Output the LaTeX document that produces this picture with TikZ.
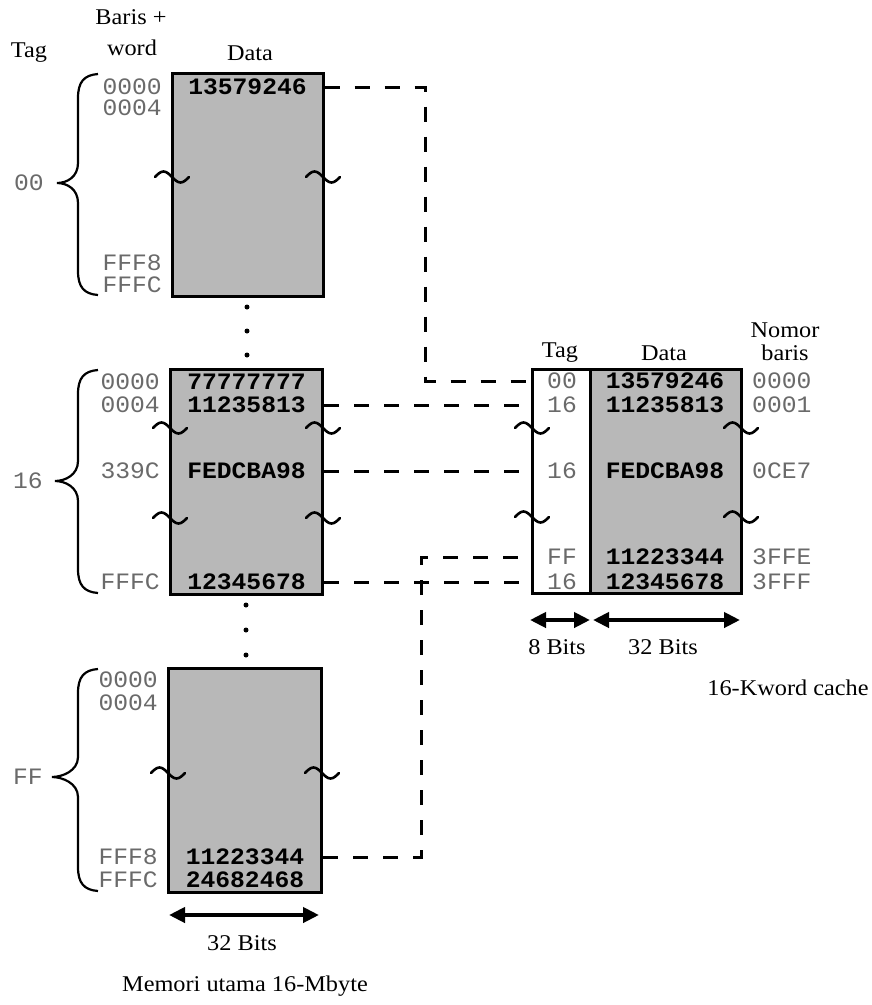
\documentclass[tikz,border=0pt]{standalone}
\usepackage{fontspec}
\setmainfont[FakeStretch=1.08]{Liberation Serif}
\newfontfamily\monof[FakeStretch=1.05]{Liberation Mono}
\usetikzlibrary{arrows.meta}
\definecolor{boxgray}{HTML}{B8B8B8}
\definecolor{addrgray}{HTML}{6A6A6A}
\newcommand\brkmark[2]{\draw[brk] ({#1-17},#2) sin ({#1-8.5},{#2-5.5}) cos (#1,#2) sin ({#1+8.5},{#2+5.5}) cos ({#1+17},#2);}
\newcommand\memBrace[4]{% top, bottom, middle, tip x
  \draw[brc] (98,#1) .. controls (84,{#1+1}) and (78,{#1+8}) .. (78,{#1+24})
    -- (78,{#3-20}) .. controls (78,{#3-6}) and ({#4+10},#3) .. (#4,#3)
    .. controls ({#4+10},#3) and (78,{#3+6}) .. (78,{#3+20})
    -- (78,{#2-24}) .. controls (78,{#2-8}) and (84,{#2-1}) .. (98,#2);}
\begin{document}
\begin{tikzpicture}[x=1pt,y=-1pt,
  lbl/.style={font=\fontsize{22.5}{24}\selectfont, inner sep=0pt},
  addr/.style={font=\monof\fontsize{23.5}{24}\selectfont, text=addrgray, inner sep=0pt},
  val/.style={font=\monof\bfseries\fontsize{23.5}{24}\selectfont, inner sep=0pt},
  blk/.style={draw, line width=3pt, fill=boxgray, inner sep=0pt},
  brk/.style={line width=2.6pt, line cap=round},
  brc/.style={line width=2.2pt},
  dsh/.style={line width=3pt, dash pattern=on 15pt off 15pt},
  dbl/.style={line width=4pt, {Triangle[length=16pt,width=15pt]}-{Triangle[length=16pt,width=15pt]}},
  dotm/.style={circle, fill, inner sep=0pt, minimum size=5pt}]
\useasboundingbox (0,0) rectangle (872,1005);

% ---------- headers ----------
\node[lbl] (hbaris) at (131,17) {Baris +};
\node[lbl] (hword) at (132,48) {word};
\node[lbl] (htag) at (29,53) {Tag};
\node[lbl] (hdata) at (250,53) {Data};

% ---------- block 1 (tag 00) ----------
\node[blk, minimum width=151pt, minimum height=223pt] (m1) at (247.5,184.5) {};
\node[val] (v1a) at (247.5,87) {13579246};
\node[addr, anchor=east] (a1a) at (162,87) {0000};
\node[addr, anchor=east] (a1b) at (162,108) {0004};
\node[addr, anchor=east] (a1c) at (162,263) {FFF8};
\node[addr, anchor=east] (a1d) at (162,285) {FFFC};
\brkmark{172}{177}
\brkmark{323}{177}
\memBrace{74}{295}{183}{57}
\node[addr] (t1) at (29,183) {00};

\node[dotm] (d1) at (247,307) {};
\node[dotm] (d2) at (247,331) {};
\node[dotm] (d3) at (247,355) {};

% ---------- block 2 (tag 16) ----------
\node[blk, minimum width=152pt, minimum height=225pt] (m2) at (246.5,481.5) {};
\node[val] (v2a) at (246.5,382) {77777777};
\node[val] (v2b) at (246.5,405) {11235813};
\node[val] (v2c) at (246.5,471) {FEDCBA98};
\node[val] (v2d) at (246.5,582) {12345678};
\node[addr, anchor=east] (a2a) at (160,382) {0000};
\node[addr, anchor=east] (a2b) at (160,405) {0004};
\node[addr, anchor=east] (a2c) at (160,471) {339C};
\node[addr, anchor=east] (a2d) at (160,582) {FFFC};
\brkmark{170}{428}
\brkmark{323}{428}
\brkmark{170}{518}
\brkmark{323}{518}
\memBrace{370}{593}{481}{55}
\node[addr] (t2) at (28,481) {16};

\node[dotm] (d4) at (246,605) {};
\node[dotm] (d5) at (246,630) {};
\node[dotm] (d6) at (246,655) {};

% ---------- block 3 (tag FF) ----------
\node[blk, minimum width=153pt, minimum height=224pt] (m3) at (245,780) {};
\node[val] (v3a) at (245,857) {11223344};
\node[val] (v3b) at (245,880) {24682468};
\node[addr, anchor=east] (a3a) at (158,680) {0000};
\node[addr, anchor=east] (a3b) at (158,703) {0004};
\node[addr, anchor=east] (a3c) at (158,857) {FFF8};
\node[addr, anchor=east] (a3d) at (158,880) {FFFC};
\brkmark{168}{773}
\brkmark{322}{773}
\memBrace{669}{891}{777}{52}
\node[addr] (t3) at (28,777) {FF};

\coordinate (mb1) at (169,915);
\coordinate (mb2) at (319,915);
\draw[dbl] (mb1) -- (mb2);
\node[lbl] (mbits) at (242,943) {32 Bits};
\node[lbl] (mcap) at (245,986) {Memori utama 16-Mbyte};

% ---------- cache ----------
\node[draw, line width=3pt, fill=white, minimum width=58pt, minimum height=224pt, inner sep=0pt] (ctag) at (561,481) {};
\node[blk, minimum width=151pt, minimum height=224pt] (cdat) at (665.5,481) {};
\node[lbl] (chtag) at (560,353) {Tag};
\node[lbl] (chdata) at (664,353) {Data};
\node[lbl] (chnom) at (785,330) {Nomor};
\node[lbl] (chbar) at (785,353) {baris};

\node[addr] (ct0) at (562,381) {00};
\node[addr] (ct1) at (562,405) {16};
\node[addr] (ct2) at (562,471) {16};
\node[addr] (ct3) at (562,557) {FF};
\node[addr] (ct4) at (562,582) {16};
\node[val] (cv0) at (665,381) {13579246};
\node[val] (cv1) at (665,405) {11235813};
\node[val] (cv2) at (665,471) {FEDCBA98};
\node[val] (cv3) at (665,557) {11223344};
\node[val] (cv4) at (665,582) {12345678};
\node[addr, anchor=west] (cn0) at (752,381) {0000};
\node[addr, anchor=west] (cn1) at (752,405) {0001};
\node[addr, anchor=west] (cn2) at (752,471) {0CE7};
\node[addr, anchor=west] (cn3) at (752,557) {3FFE};
\node[addr, anchor=west] (cn4) at (752,582) {3FFF};
\brkmark{532}{428}
\brkmark{741}{428}
\brkmark{532}{517}
\brkmark{741}{517}

\coordinate (cb1) at (530,620);
\coordinate (cb2) at (590,620);
\coordinate (cb3) at (593,620);
\coordinate (cb4) at (740,620);
\draw[dbl] (cb1) -- (cb2);
\draw[dbl] (cb3) -- (cb4);
\node[lbl] (c8b) at (557,647) {8 Bits};
\node[lbl] (c32b) at (663,647) {32 Bits};
\node[lbl] (ccap) at (788,688) {16-Kword cache};

% ---------- mapping connectors ----------
\coordinate (kA) at (425,0);
\coordinate (kB) at (421,0);
\draw[dsh] (m1.east |- v1a) -| (kA |- ct0) -- (ctag.west |- ct0);
\draw[dsh] (m2.east |- v2b) -- (ctag.west |- ct1);
\draw[dsh] (m2.east |- v2c) -- (ctag.west |- ct2);
\draw[dsh] (m3.east |- v3a) -| (kB |- ct3) -- (ctag.west |- ct3);
\draw[dsh] (m2.east |- v2d) -- (ctag.west |- ct4);
\end{tikzpicture}
\end{document}
